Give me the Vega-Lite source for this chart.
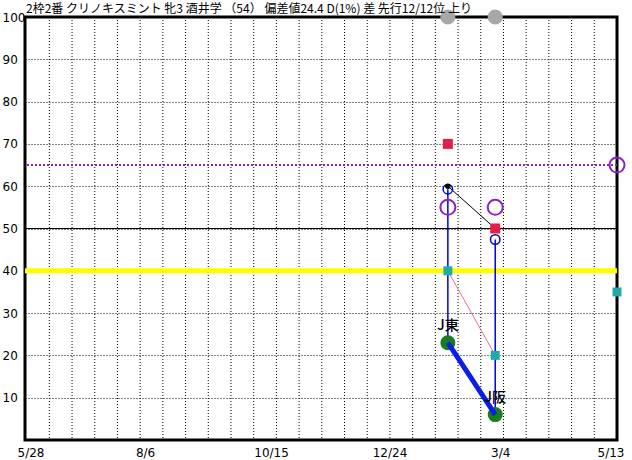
{
  "$schema": "https://vega.github.io/schema/vega-lite/v6.json",
  "width": 592,
  "height": 423,
  "autosize": "none",
  "padding": {"left": 25, "top": 17, "right": 15, "bottom": 20},
  "background": "white",
  "title": {
    "text": "2枠2番 クリノキスミント 牝3 酒井学 （54） 偏差値24.4 D(1%) 差 先行12/12位 上り",
    "anchor": "start",
    "frame": "group",
    "baseline": "alphabetic",
    "offset": 0,
    "dy": 16,
    "dx": 1,
    "font": "Noto Sans CJK JP",
    "fontSize": 12,
    "fontWeight": "normal",
    "color": "black"
  },
  "config": {
    "view": {"stroke": "black", "strokeWidth": 3},
    "axis": {"labelFont": "DejaVu Sans", "labelFontSize": 12, "labelColor": "black"}
  },
  "datasets": {
    "vgrid": [
      {"date": "2024-05-28"}, {"date": "2024-06-11"}, {"date": "2024-06-25"}, {"date": "2024-07-09"},
      {"date": "2024-07-23"}, {"date": "2024-08-06"}, {"date": "2024-08-20"}, {"date": "2024-09-03"},
      {"date": "2024-09-17"}, {"date": "2024-10-01"}, {"date": "2024-10-15"}, {"date": "2024-10-29"},
      {"date": "2024-11-12"}, {"date": "2024-11-26"}, {"date": "2024-12-10"}, {"date": "2024-12-24"},
      {"date": "2025-01-07"}, {"date": "2025-01-21"}, {"date": "2025-02-04"}, {"date": "2025-02-18"},
      {"date": "2025-03-04"}, {"date": "2025-03-18"}, {"date": "2025-04-01"}, {"date": "2025-04-15"},
      {"date": "2025-04-29"}
    ],
    "levels": [
      {"v": 65, "kind": "purple"},
      {"v": 50, "kind": "black"},
      {"v": 40, "kind": "yellow"}
    ],
    "stems": [
      {"date": "2025-02-02", "v": 59.3, "bottom": 23},
      {"date": "2025-03-02", "v": 47.4, "bottom": 6}
    ],
    "segs": [
      {"date": "2025-02-02", "v": 60, "series": "black"},
      {"date": "2025-03-02", "v": 50, "series": "black"},
      {"date": "2025-02-02", "v": 40, "series": "pink"},
      {"date": "2025-03-02", "v": 20, "series": "pink"},
      {"date": "2025-02-02", "v": 23, "series": "blue"},
      {"date": "2025-03-02", "v": 6, "series": "blue"}
    ],
    "pts": [
      {"date": "2025-02-02", "v": 100, "kind": "gray"},
      {"date": "2025-03-02", "v": 100, "kind": "gray"},
      {"date": "2025-02-02", "v": 70, "kind": "red"},
      {"date": "2025-03-02", "v": 50, "kind": "red"},
      {"date": "2025-02-02", "v": 60, "kind": "dot"},
      {"date": "2025-02-02", "v": 59.3, "kind": "blue"},
      {"date": "2025-03-02", "v": 47.4, "kind": "blue"},
      {"date": "2025-02-02", "v": 55, "kind": "purple"},
      {"date": "2025-03-02", "v": 55, "kind": "purple"},
      {"date": "2025-05-13", "v": 65, "kind": "purple"},
      {"date": "2025-02-02", "v": 40, "kind": "teal"},
      {"date": "2025-03-02", "v": 20, "kind": "teal"},
      {"date": "2025-05-13", "v": 35, "kind": "teal"},
      {"date": "2025-02-02", "v": 23, "kind": "green", "label": "J東"},
      {"date": "2025-03-02", "v": 6, "kind": "green", "label": "J阪"}
    ]
  },
  "layer": [
    {
      "data": {"name": "vgrid"},
      "mark": {"type": "rule", "color": "black", "strokeDash": [1, 2], "strokeWidth": 1},
      "encoding": {
        "x": {
          "field": "date", "type": "temporal",
          "scale": {"type": "utc", "domain": [{"year": 2024, "month": 5, "date": 13, "utc": true}, {"year": 2025, "month": 5, "date": 13, "utc": true}]},
          "axis": null
        }
      }
    },
    {
      "data": {"name": "levels"},
      "transform": [{"filter": "datum.kind === 'black'"}],
      "mark": {"type": "rule", "color": "black", "strokeWidth": 1},
      "encoding": {
        "y": {
          "field": "v", "type": "quantitative", "title": null,
          "scale": {"domain": [0, 100], "nice": false, "zero": true},
          "axis": {"values": [10, 20, 30, 40, 50, 60, 70, 80, 90, 100], "domain": false, "ticks": false, "tickSize": 0,
                   "labelAlign": "left", "labelPadding": 23, "labelBaseline": "middle",
                   "grid": true, "gridColor": "black", "gridDash": [1, 2], "gridOpacity": 1, "gridWidth": 1}
        }
      }
    },
    {
      "data": {"name": "levels"},
      "transform": [{"filter": "datum.kind === 'yellow'"}],
      "mark": {"type": "rule", "color": "#FFFF00", "strokeWidth": 5},
      "encoding": {
        "y": {"field": "v", "type": "quantitative", "title": null,
              "scale": {"domain": [0, 100], "nice": false, "zero": true}}
      }
    },
    {
      "data": {"name": "levels"},
      "transform": [{"filter": "datum.kind === 'purple'"}],
      "mark": {"type": "rule", "color": "#9020C0", "strokeWidth": 2, "strokeDash": [2, 2]},
      "encoding": {
        "y": {"field": "v", "type": "quantitative", "title": null,
              "scale": {"domain": [0, 100], "nice": false, "zero": true}}
      }
    },
    {
      "encoding": {
        "x": {
          "field": "date", "type": "temporal", "title": null,
          "scale": {"type": "utc", "domain": [{"year": 2024, "month": 5, "date": 28, "utc": true}, {"year": 2025, "month": 5, "date": 13, "utc": true}]},
          "axis": {
            "orient": "bottom",
            "values": [
              {"year": 2024, "month": 5, "date": 28, "utc": true},
              {"year": 2024, "month": 8, "date": 6, "utc": true},
              {"year": 2024, "month": 10, "date": 15, "utc": true},
              {"year": 2024, "month": 12, "date": 24, "utc": true},
              {"year": 2025, "month": 3, "date": 4, "utc": true},
              {"year": 2025, "month": 5, "date": 13, "utc": true}
            ],
            "labelExpr": "utcFormat(datum.value, '%-m/%-d')",
            "domain": false, "ticks": false, "tickSize": 0, "grid": false,
            "labelAlign": "left", "labelFlush": false, "labelOverlap": false, "labelBound": false,
            "labelOffset": {"condition": {"test": "datum.index === 1", "value": -20}, "value": -8},
            "labelPadding": 7
          }
        },
        "y": {
          "field": "v", "type": "quantitative", "title": null,
          "scale": {"domain": [0, 100], "nice": false, "zero": true}
        }
      },
      "layer": [
        {
          "data": {"name": "stems"},
          "mark": {"type": "rule", "color": "#0000E0", "strokeWidth": 1.5},
          "encoding": {"y2": {"field": "bottom"}}
        },
        {
          "data": {"name": "segs"},
          "transform": [{"filter": "datum.series === 'black'"}],
          "mark": {"type": "line", "color": "black", "strokeWidth": 1}
        },
        {
          "data": {"name": "segs"},
          "transform": [{"filter": "datum.series === 'pink'"}],
          "mark": {"type": "line", "color": "#E07090", "strokeWidth": 1}
        },
        {
          "data": {"name": "pts"},
          "transform": [{"filter": "datum.kind === 'gray'"}],
          "mark": {"type": "point", "shape": "circle", "filled": true, "color": "#A8A8A8", "opacity": 1, "size": 230}
        },
        {
          "data": {"name": "pts"},
          "transform": [{"filter": "datum.kind === 'red'"}],
          "mark": {"type": "point", "shape": "square", "filled": true, "color": "#E0204A", "opacity": 1, "size": 100}
        },
        {
          "data": {"name": "pts"},
          "transform": [{"filter": "datum.kind === 'teal'"}],
          "mark": {"type": "point", "shape": "square", "filled": true, "color": "#20AAAA", "opacity": 1, "size": 80}
        },
        {
          "data": {"name": "pts"},
          "transform": [{"filter": "datum.kind === 'purple'"}],
          "mark": {"type": "point", "shape": "circle", "filled": false, "color": "#8B22C8", "strokeWidth": 2, "opacity": 1, "size": 225}
        },
        {
          "data": {"name": "pts"},
          "transform": [{"filter": "datum.kind === 'blue'"}],
          "mark": {"type": "point", "shape": "circle", "filled": false, "color": "#0000E0", "strokeWidth": 1.5, "opacity": 1, "size": 90}
        },
        {
          "data": {"name": "pts"},
          "transform": [{"filter": "datum.kind === 'dot'"}],
          "mark": {"type": "point", "shape": "circle", "filled": true, "color": "black", "opacity": 1, "size": 30}
        },
        {
          "data": {"name": "pts"},
          "transform": [{"filter": "datum.kind === 'green'"}],
          "mark": {"type": "point", "shape": "circle", "filled": true, "color": "#1A7F1A", "opacity": 1, "size": 225}
        },
        {
          "data": {"name": "segs"},
          "transform": [{"filter": "datum.series === 'blue'"}],
          "mark": {"type": "line", "color": "#0A1EE6", "strokeWidth": 5}
        },
        {
          "data": {"name": "pts"},
          "transform": [{"filter": "datum.kind === 'green'"}],
          "mark": {"type": "text", "dy": -17, "font": "Noto Sans CJK JP", "fontSize": 14, "fontWeight": 500, "color": "black", "align": "center", "baseline": "middle"},
          "encoding": {"text": {"field": "label"}}
        }
      ]
    }
  ],
  "resolve": {"scale": {"x": "independent"}}
}
